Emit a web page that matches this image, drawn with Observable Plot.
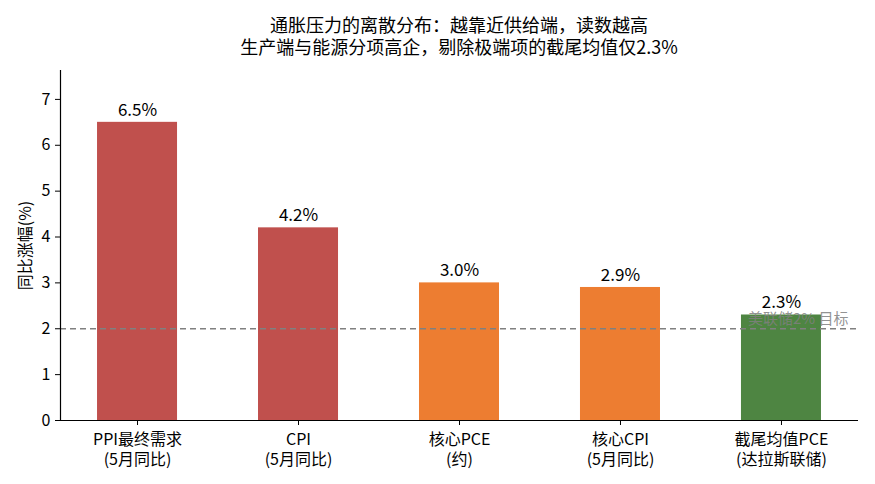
<!DOCTYPE html>
<html><head><meta charset="utf-8">
<script src="https://cdn.jsdelivr.net/npm/d3@7"></script>
<script src="https://cdn.jsdelivr.net/npm/@observablehq/plot@0.6"></script>
<style>
body{margin:0;background:#fff;font-family:"Noto Sans CJK SC","Noto Sans",sans-serif;}
#title{margin-left:60px;width:798px;text-align:center;font-size:18px;line-height:22px;padding-top:13px;height:47px;color:#000;}
</style></head><body>
<div id="title">通胀压力的离散分布：越靠近供给端，读数越高<br>生产端与能源分项高企，剔除极端项的截尾均值仅2.3%</div>
<div id="chart"></div>
<script>
const categories = ["PPI最终需求\n(5月同比)", "CPI\n(5月同比)", "核心PCE\n(约)", "核心CPI\n(5月同比)", "截尾均值PCE\n(达拉斯联储)"];
const values = [6.5, 4.2, 3.0, 2.9, 2.3];
const colors = ["#C0504D", "#C0504D", "#ED7D31", "#ED7D31", "#4E8542"];
const targetValue = 2;
const targetLabel = "美联储2% 目标";
const yTicks = [0, 1, 2, 3, 4, 5, 6, 7];
const yMax = 7.63;
const yLabel = "同比涨幅(%)";

const data = categories.map((c, i) => ({cat: c, value: values[i], color: colors[i], label: values[i].toFixed(1) + "%"}));

const plot = Plot.plot({
  width: 875,
  height: 424,
  marginLeft: 60,
  marginRight: 17,
  marginTop: 10,
  marginBottom: 64,
  style: {fontFamily: '"Noto Sans CJK SC","Noto Sans",sans-serif', fontSize: "16px", color: "#000", background: "#fff"},
  x: {domain: categories, paddingInner: 0.503, paddingOuter: 0.23, round: false, label: null},
  y: {domain: [0, yMax], label: null},
  marks: [
    Plot.barY(data, {x: "cat", y: "value", fill: "color"}),
    Plot.text(data, {x: "cat", y: "value", text: "label", dy: -12, fontSize: 17, fill: "#000"}),
    Plot.ruleY([targetValue], {stroke: "#808080", strokeWidth: 1.5, strokeDasharray: "6,4"}),
    Plot.text([targetLabel], {x: () => categories[4], y: () => targetValue, text: d => d, textAnchor: "end", dx: 67, dy: -10, fill: "#808080", fillOpacity: 0.85, fontSize: 15}),
    Plot.axisY({ticks: yTicks, tickSize: 5, tickPadding: 5, fontSize: 16, label: null, stroke: "#000"}),
    Plot.axisX({tickSize: 5, tickPadding: 5, fontSize: 16, label: null, lineHeight: 1.25}),
    Plot.frame({anchor: "left", stroke: "#000", strokeWidth: 1.2}),
    Plot.ruleY([0], {stroke: "#000", strokeWidth: 1.2}),
    Plot.text([yLabel], {y: () => yMax / 2, frameAnchor: "left", dx: -35, rotate: -90, textAnchor: "middle", fontSize: 16, fill: "#000", text: d => d})
  ]
});
document.getElementById("chart").appendChild(plot);
</script>
</body></html>
